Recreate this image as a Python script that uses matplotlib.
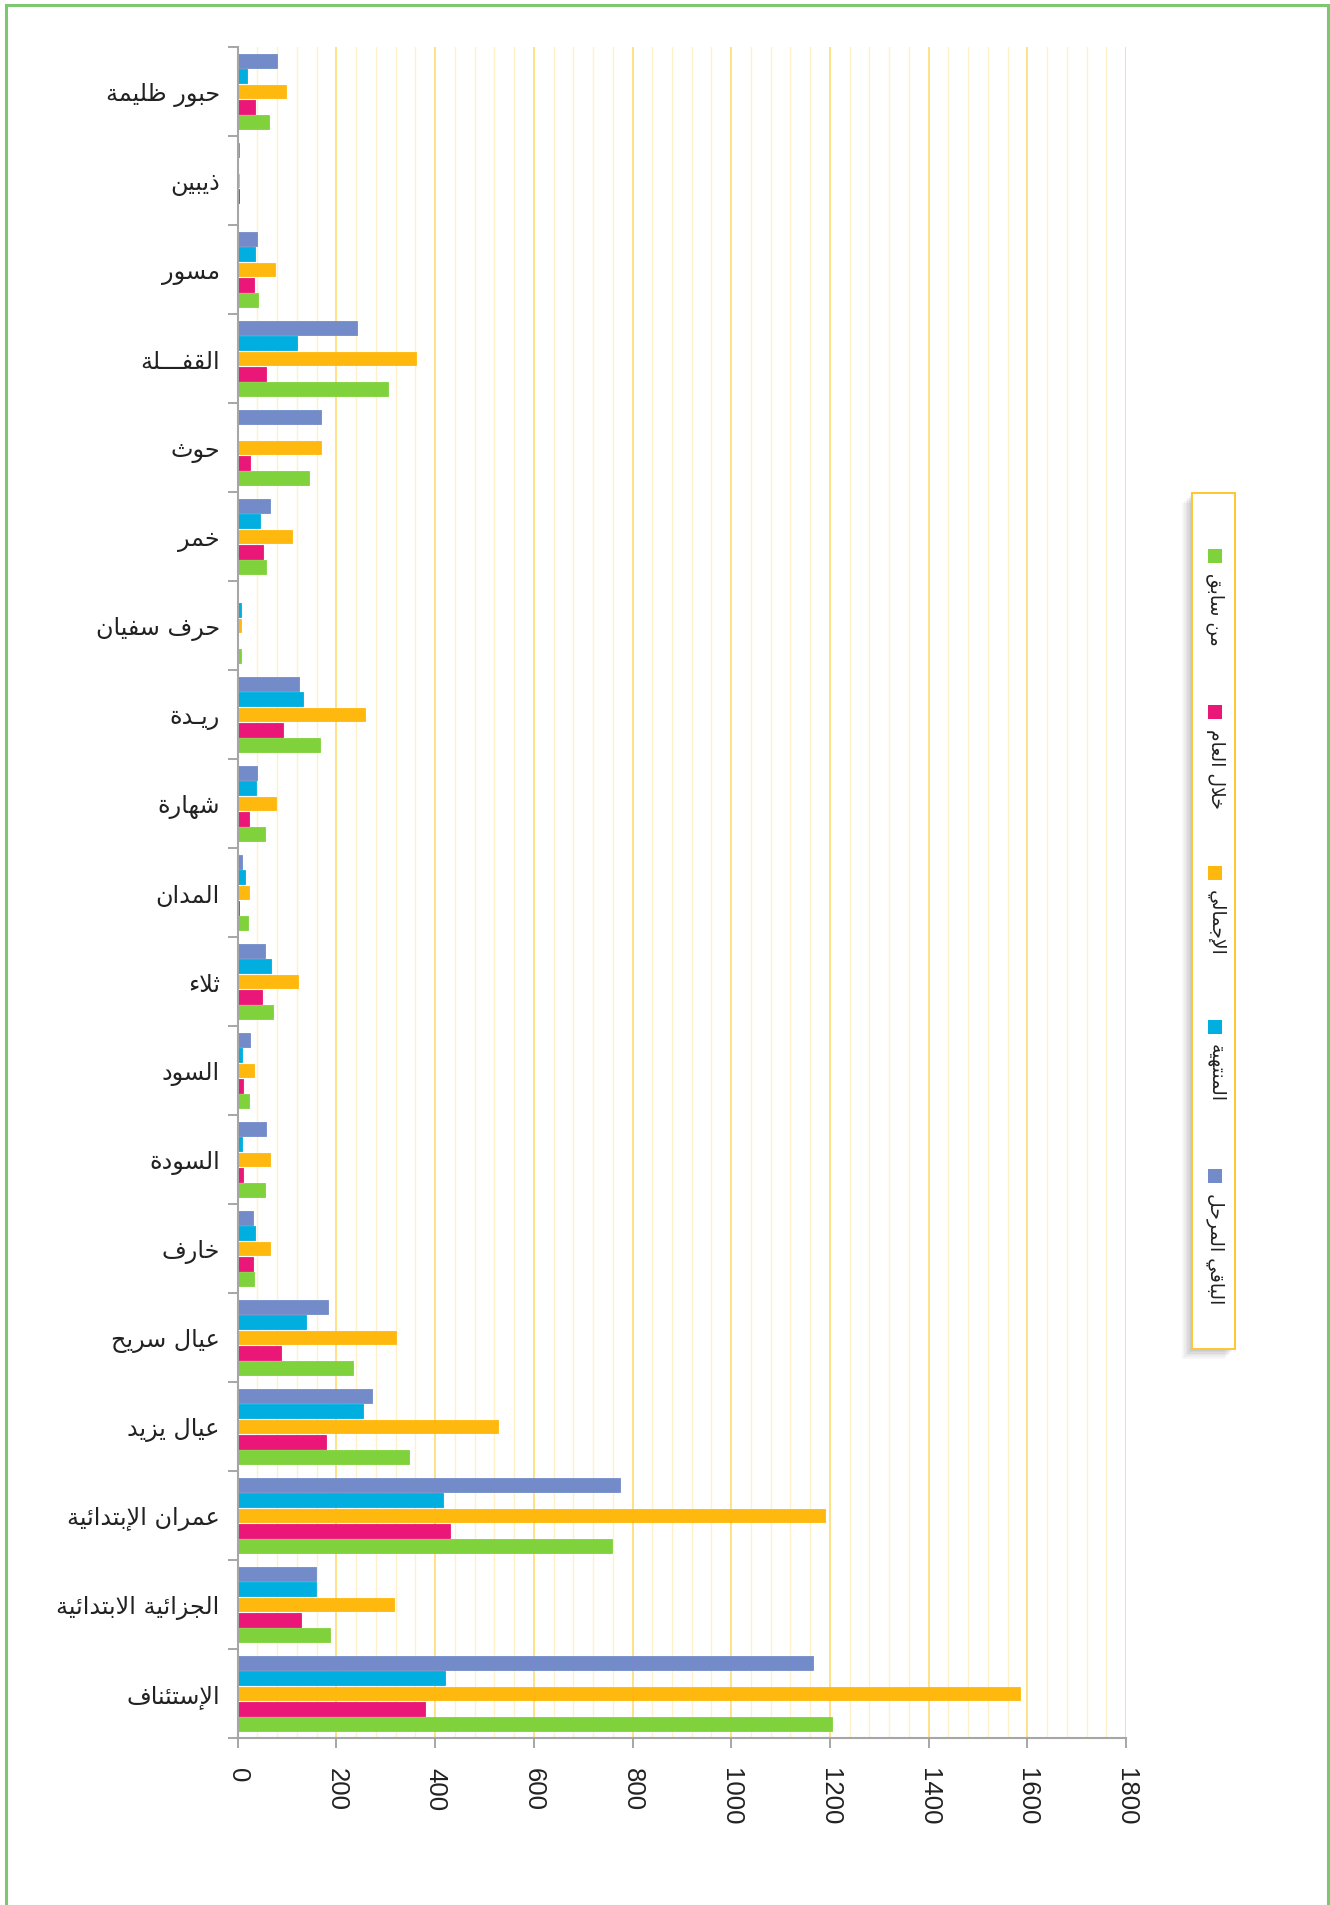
import numpy as np
import matplotlib
matplotlib.use('Agg')
import matplotlib.pyplot as plt
from matplotlib.patches import Rectangle

# categories, bottom to top (Excel order)
categories = ['الإستئناف', 'الجزائية الابتدائية', 'عمران الإبتدائية', 'عيال يزيد',
              'عيال سريح', 'خارف', 'السودة', 'السود', 'ثلاء', 'المدان', 'شهارة',
              'ريـدة', 'حرف سفيان', 'خمر', 'حوث', 'القفـــلة', 'مسور', 'ذيبين',
              'حبور ظليمة']

from_prev = [1205, 188, 759, 348, 234, 34, 55, 23, 72, 20, 55, 166, 6, 58, 144, 305, 42, 1, 63]
during_year = [380, 129, 431, 179, 87, 32, 11, 11, 50, 3, 22, 91, 0, 52, 24, 57, 34, 2, 35]
total = [1586, 317, 1191, 527, 321, 66, 66, 34, 122, 23, 77, 257, 6, 110, 168, 362, 76, 3, 98]
finished = [420, 159, 417, 254, 138, 36, 8, 9, 67, 15, 38, 132, 6, 45, 0, 120, 36, 1, 18]
remaining = [1166, 158, 774, 273, 183, 30, 58, 25, 55, 8, 39, 125, 0, 65, 168, 242, 40, 2, 80]

series_names = ['من سابق', 'خلال العام', 'الإجمالي', 'المنتهية', 'الباقي المرحل']
series_values = [from_prev, during_year, total, finished, remaining]
colors = ['#80d23c', '#ea1678', '#ffb80d', '#00aee0', '#738bc9']

x_ticks = list(range(0, 1801, 200))

# --- simple arabic shaping (matplotlib does no contextual shaping) ---
DUAL = {'ئ': 0xFE89, 'ب': 0xFE8F, 'ت': 0xFE95, 'ث': 0xFE99, 'ج': 0xFE9D, 'ح': 0xFEA1,
        'خ': 0xFEA5, 'س': 0xFEB1, 'ش': 0xFEB5, 'ص': 0xFEB9, 'ض': 0xFEBD, 'ط': 0xFEC1,
        'ظ': 0xFEC5, 'ع': 0xFEC9, 'غ': 0xFECD, 'ف': 0xFED1, 'ق': 0xFED5, 'ك': 0xFED9,
        'ل': 0xFEDD, 'م': 0xFEE1, 'ن': 0xFEE5, 'ه': 0xFEE9, 'ي': 0xFEF1}
RIGHT = {'آ': 0xFE81, 'أ': 0xFE83, 'ؤ': 0xFE85, 'إ': 0xFE87, 'ا': 0xFE8D, 'ة': 0xFE93,
         'د': 0xFEA9, 'ذ': 0xFEAB, 'ر': 0xFEAD, 'ز': 0xFEAF, 'و': 0xFEED, 'ى': 0xFEEF}
LAM_ALEF = {'آ': 0xFEF5, 'أ': 0xFEF7, 'إ': 0xFEF9, 'ا': 0xFEFB}
TATWEEL = 'ـ'


def shape(text):
    units = []
    i = 0
    while i < len(text):
        c = text[i]
        if c == 'ل' and i + 1 < len(text) and text[i + 1] in LAM_ALEF:
            units.append(('LA', text[i + 1]))
            i += 2
        else:
            units.append(('C', c))
            i += 1

    def joins_next(u):
        return u[0] == 'C' and (u[1] in DUAL or u[1] == TATWEEL)

    def joins_prev(u):
        return u[0] == 'LA' or u[1] in DUAL or u[1] in RIGHT or u[1] == TATWEEL

    out = []
    for k, u in enumerate(units):
        p = k > 0 and joins_next(units[k - 1]) and joins_prev(u)
        n = k + 1 < len(units) and joins_next(u) and joins_prev(units[k + 1])
        kind, c = u
        if kind == 'LA':
            out.append(chr(LAM_ALEF[c] + (1 if p else 0)))
        elif c in DUAL:
            off = 3 if (p and n) else 2 if n else 1 if p else 0
            out.append(chr(DUAL[c] + off))
        elif c in RIGHT:
            out.append(chr(RIGHT[c] + (1 if p else 0)))
        else:
            out.append(c)
    return ''.join(reversed(out))


W, H = 1330, 1906
fig = plt.figure(figsize=(W / 100, H / 100), dpi=100)
fig.patch.set_facecolor('white')

# green frame round the chart (bottom edge runs off the picture)
fig.patches.append(Rectangle((6 / W, -0.05), (1328 - 6) / W, 1.05 - 6 / H,
                             transform=fig.transFigure, fill=False,
                             edgecolor='#7cc770', linewidth=2.2))

ax = fig.add_axes([237.7 / W, (H - 1739) / H, (1126 - 237.7) / W, (1739 - 48) / H])

n = len(categories)
pitch = 0.1723
bar_h = 0.15
centers = np.arange(n) + 0.5
for i, (vals, col) in enumerate(zip(series_values, colors)):
    ax.barh(centers + (i - 2) * pitch, vals, height=bar_h, color=col,
            edgecolor=col, linewidth=0.6, zorder=3)

ax.set_xlim(0, 1800)
ax.set_ylim(0, n)

# gridlines
ax.set_xticks(x_ticks)
ax.set_xticks(np.arange(0, 1801, 40), minor=True)
ax.grid(axis='x', which='major', color='#ffd86a', linewidth=1.1, zorder=0)
ax.grid(axis='x', which='minor', color='#fff0c8', linewidth=1.0, zorder=0)
ax.tick_params(axis='x', which='minor', length=0)
ax.tick_params(axis='x', which='major', length=7, width=1.4, color='#a6a6a6',
               pad=14)
ax.set_xticklabels([str(v) for v in x_ticks], rotation=270, ha='center', va='top',
                   fontsize=18.5, family=['Liberation Sans', 'DejaVu Sans'],
                   color='#222222')

# category axis: tick marks between groups, labels at centres
ax.set_yticks(np.arange(0, n + 1))
ax.set_yticklabels([])
ax.set_yticks(centers, minor=True)
ax.set_yticklabels([shape(c) for c in categories], minor=True, fontsize=17.2,
                   family='DejaVu Sans', color='#222222')
ax.tick_params(axis='y', which='major', length=7, width=1.4, color='#a6a6a6')
ax.tick_params(axis='y', which='minor', length=0, pad=13)

for s in ['top', 'right']:
    ax.spines[s].set_visible(False)
for s in ['left', 'bottom']:
    ax.spines[s].set_color('#a6a6a6')
    ax.spines[s].set_linewidth(1.5)
    ax.spines[s].set_zorder(4)

# legend drawn by hand (rotated text, vertical box with shadow)
lx0, lx1, ly0, ly1 = 1192, 1235, 494, 1350
for k in range(6, 0, -1):
    fig.patches.append(Rectangle(((lx0 - k * 1.6) / W, (H - ly1 - k * 1.6) / H),
                                 (lx1 - lx0) / W, (ly1 - ly0) / H,
                                 transform=fig.transFigure, facecolor='#000000',
                                 alpha=0.035, edgecolor='none'))
fig.patches.append(Rectangle((lx0 / W, (H - ly1) / H), (lx1 - lx0) / W, (ly1 - ly0) / H,
                             transform=fig.transFigure, facecolor='white',
                             edgecolor='#ffc533', linewidth=1.4))
marker_y = [557, 713, 874, 1028, 1177]
for name, col, my in zip(series_names, colors, marker_y):
    fig.patches.append(Rectangle((1208 / W, (H - my - 7) / H), 14 / W, 14 / H,
                                 transform=fig.transFigure, facecolor=col,
                                 edgecolor='none'))
    fig.text(1216 / W, (H - my - 16) / H, shape(name), rotation=270, ha='center',
             va='top', fontsize=13.5, family='DejaVu Sans', color='#222222')

fig.savefig('out.png', dpi=100)
